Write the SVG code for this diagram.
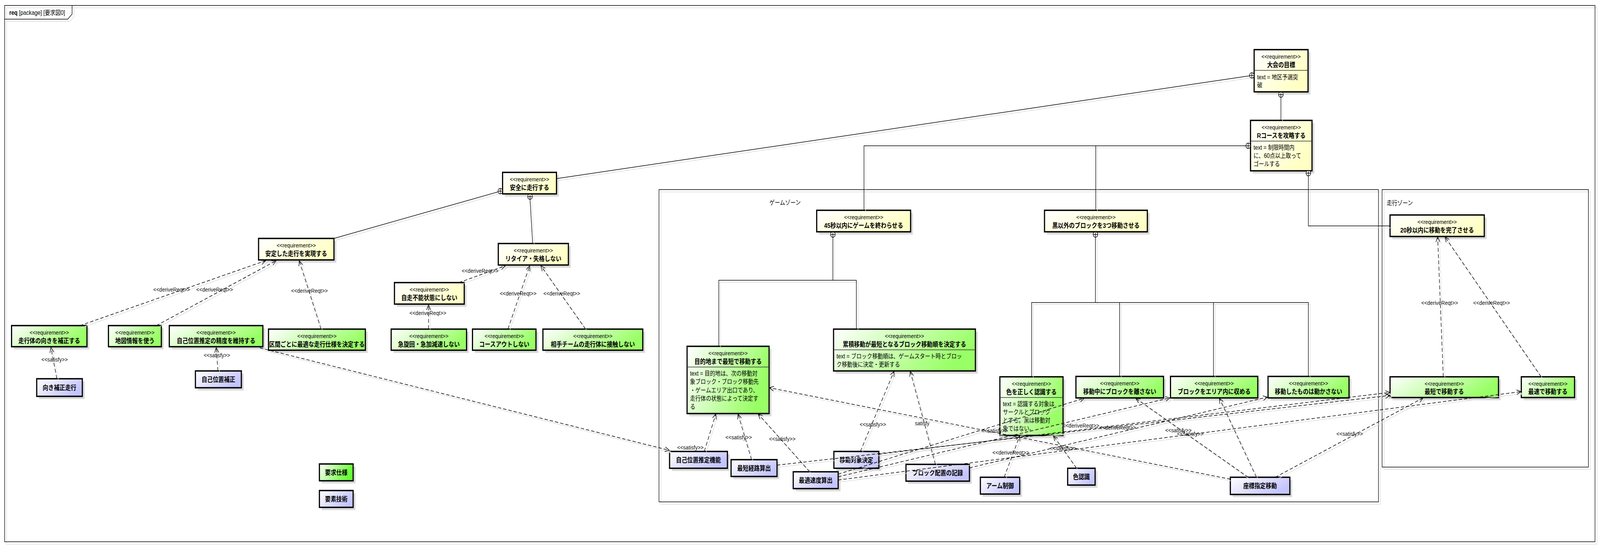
<svg xmlns="http://www.w3.org/2000/svg" xmlns:xlink="http://www.w3.org/1999/xlink" width="4839" height="1402" viewBox="0 0 4839 1402" preserveAspectRatio="none">
<style>
:root { width: 100vw; height: 100vh; }
text { font-family: "Liberation Sans", "Noto Sans CJK JP", sans-serif; fill: #000; }
.st { font-size: 15.5px; text-anchor: middle; }
.nm { font-size: 17px; font-weight: bold; text-anchor: middle; }
.tx { font-size: 16px; }
.lb { font-size: 15.5px; text-anchor: middle; fill: #111; }
.zl { font-size: 16px; }
.ttl { font-size: 16px; }
.box { stroke: #000; stroke-width: 3.5; }
.y { fill: url(#gy); }
.g { fill: url(#gg); }
.b { fill: url(#gb); }
.gl { fill: url(#ggl); }
.sh { fill: #DADADA; }
.dv { stroke: #333; stroke-width: 1.3; }
.frame { fill: none; stroke: #000; stroke-width: 1.5; }
.frs { fill: none; stroke: #DDDDDD; stroke-width: 1.5; }
.sol { fill: none; stroke: #000; stroke-width: 1.5; }
.dsh { fill: none; stroke: #000; stroke-width: 1.5; stroke-dasharray: 10 6; marker-end: url(#ar); }
.lsh { fill: none; stroke: #DCDCDC; stroke-width: 1.5; }
.dshs { marker-end: url(#ars); }
</style>
<defs>
<linearGradient id="gy" x1="0" y1="0" x2="1" y2="0.5"><stop offset="0" stop-color="#FFFFFF"/><stop offset="1" stop-color="#FFFFC4"/></linearGradient>
<linearGradient id="gg" x1="0" y1="0" x2="1" y2="0.3"><stop offset="0" stop-color="#FFFFFF"/><stop offset="1" stop-color="#99FF66"/></linearGradient>
<linearGradient id="ggl" x1="0" y1="0" x2="1" y2="0.3"><stop offset="0" stop-color="#FFFFFF"/><stop offset="1" stop-color="#66FF33"/></linearGradient>
<linearGradient id="gb" x1="0" y1="0" x2="1" y2="0.5"><stop offset="0" stop-color="#FFFFFF"/><stop offset="1" stop-color="#C4C4FF"/></linearGradient>
<marker id="ar" markerUnits="userSpaceOnUse" markerWidth="20" markerHeight="20" viewBox="-16 -10 20 20" refX="0" refY="0" orient="auto" overflow="visible"><path d="M-13,-6 L0,0 L-13,6" fill="none" stroke="#000" stroke-width="1.5" stroke-dasharray="none"/></marker>
<marker id="ars" markerUnits="userSpaceOnUse" markerWidth="20" markerHeight="20" viewBox="-16 -10 20 20" refX="0" refY="0" orient="auto" overflow="visible"><path d="M-13,-6 L0,0 L-13,6" fill="none" stroke="#DCDCDC" stroke-width="1.5" stroke-dasharray="none"/></marker>
<g id="cp"><circle r="7" fill="#FFFFFF" stroke="#000" stroke-width="1.5"/><path d="M-7,0H7M0,-7V7" stroke="#000" stroke-width="1.5"/></g>
</defs>
<rect x="0" y="0" width="4839" height="1402" fill="#FFFFFF"/>

<!-- frames -->
<g id="frame-main">
<rect class="frs" x="20" y="20" width="4810" height="1372"/>
<path class="frs" d="M20,55 H211 L224,42 V20"/>
<rect class="frame" x="14" y="14" width="4810" height="1372"/>
<path class="frame" d="M14,49 H205 L218,36 V14"/>
<text class="ttl" x="28" y="38"><tspan font-weight="bold">req</tspan> [package] [要求図0]</text>
</g>
<g id="zone-game">
<rect class="frs" x="1999" y="491" width="2176" height="799"/>
<rect class="frame" x="1993" y="485" width="2176" height="799"/>
<text class="zl" x="2327" y="524">ゲームゾーン</text>
</g>
<g id="zone-run">
<rect class="frs" x="4186" y="491" width="624" height="710"/>
<rect class="frame" x="4180" y="485" width="624" height="710"/>
<text class="zl" x="4194" y="525">走行ゾーン</text>
</g>

<!-- requirement nodes -->
<g id="n-taikai">
<rect class="sh" x="3800" y="134" width="163" height="108"/>
<rect class="box y" x="3793" y="127" width="163" height="108"/>
<line class="dv" x1="3793" y1="180" x2="3956" y2="180"/>
<text class="st" x="3874.5" y="150">&lt;&lt;requirement&gt;&gt;</text>
<text class="nm" x="3874.5" y="172">大会の目標</text>
<text class="tx" x="3802" y="203">text = 地区予選突</text>
<text class="tx" x="3802" y="223">破</text>
</g>
<g id="n-rcourse">
<rect class="sh" x="3789" y="315" width="186" height="129"/>
<rect class="box y" x="3782" y="308" width="186" height="129"/>
<line class="dv" x1="3782" y1="361" x2="3968" y2="361"/>
<text class="st" x="3875" y="331">&lt;&lt;requirement&gt;&gt;</text>
<text class="nm" x="3875" y="353">Rコースを攻略する</text>
<text class="tx" x="3791" y="383">text = 制限時間内</text>
<text class="tx" x="3791" y="404">に、60点以上取って</text>
<text class="tx" x="3791" y="425">ゴールする</text>
</g>
<g id="n-anzen">
<rect class="sh" x="1527" y="448" width="163" height="55"/>
<rect class="box y" x="1520" y="441" width="163" height="55"/>
<text class="st" x="1601.5" y="464">&lt;&lt;requirement&gt;&gt;</text>
<text class="nm" x="1601.5" y="486">安全に走行する</text>
</g>
<g id="n-antei">
<rect class="sh" x="789" y="617" width="228" height="55"/>
<rect class="box y" x="782" y="610" width="228" height="55"/>
<text class="st" x="896" y="633">&lt;&lt;requirement&gt;&gt;</text>
<text class="nm" x="896" y="655">安定した走行を実現する</text>
</g>
<g id="n-retire">
<rect class="sh" x="1514" y="630" width="212" height="55"/>
<rect class="box y" x="1507" y="623" width="212" height="55"/>
<text class="st" x="1613" y="646">&lt;&lt;requirement&gt;&gt;</text>
<text class="nm" x="1613" y="668">リタイア・失格しない</text>
</g>
<g id="n-jisou">
<rect class="sh" x="1200" y="730" width="211" height="55"/>
<rect class="box y" x="1193" y="723" width="211" height="55"/>
<text class="st" x="1298.5" y="746">&lt;&lt;requirement&gt;&gt;</text>
<text class="nm" x="1298.5" y="768">自走不能状態にしない</text>
</g>
<g id="n-muki">
<rect class="sh" x="42" y="840" width="228" height="54"/>
<rect class="box g" x="35" y="833" width="228" height="54"/>
<text class="st" x="149" y="856">&lt;&lt;requirement&gt;&gt;</text>
<text class="nm" x="149" y="878">走行体の向きを補正する</text>
</g>
<g id="n-chizu">
<rect class="sh" x="335" y="840" width="160" height="54"/>
<rect class="box g" x="328" y="833" width="160" height="54"/>
<text class="st" x="408" y="856">&lt;&lt;requirement&gt;&gt;</text>
<text class="nm" x="408" y="878">地図情報を使う</text>
</g>
<g id="n-seido">
<rect class="sh" x="519" y="840" width="283" height="54"/>
<rect class="box g" x="512" y="833" width="283" height="54"/>
<text class="st" x="653.5" y="856">&lt;&lt;requirement&gt;&gt;</text>
<text class="nm" x="653.5" y="878">自己位置推定の精度を維持する</text>
</g>
<g id="n-kukan">
<rect class="sh" x="819" y="849" width="293" height="54"/>
<rect class="box g" x="812" y="842" width="293" height="54"/>
<text class="st" x="958.5" y="865">&lt;&lt;requirement&gt;&gt;</text>
<text class="nm" x="958.5" y="887">区間ごとに最適な走行仕様を決定する</text>
</g>
<g id="n-kyusenkai">
<rect class="sh" x="1190" y="849" width="228" height="54"/>
<rect class="box g" x="1183" y="842" width="228" height="54"/>
<text class="st" x="1297" y="865">&lt;&lt;requirement&gt;&gt;</text>
<text class="nm" x="1297" y="887">急旋回・急加減速しない</text>
</g>
<g id="n-courseout">
<rect class="sh" x="1436" y="849" width="192" height="54"/>
<rect class="box g" x="1429" y="842" width="192" height="54"/>
<text class="st" x="1525" y="865">&lt;&lt;requirement&gt;&gt;</text>
<text class="nm" x="1525" y="887">コースアウトしない</text>
</g>
<g id="n-aite">
<rect class="sh" x="1649" y="849" width="302" height="54"/>
<rect class="box g" x="1642" y="842" width="302" height="54"/>
<text class="st" x="1793" y="865">&lt;&lt;requirement&gt;&gt;</text>
<text class="nm" x="1793" y="887">相手チームの走行体に接触しない</text>
</g>
<g id="n-45sec">
<rect class="sh" x="2477" y="545" width="284" height="55"/>
<rect class="box y" x="2470" y="538" width="284" height="55"/>
<text class="st" x="2612" y="561">&lt;&lt;requirement&gt;&gt;</text>
<text class="nm" x="2612" y="583">45秒以内にゲームを終わらせる</text>
</g>
<g id="n-kuro">
<rect class="sh" x="3166" y="545" width="311" height="55"/>
<rect class="box y" x="3159" y="538" width="311" height="55"/>
<text class="st" x="3314.5" y="561">&lt;&lt;requirement&gt;&gt;</text>
<text class="nm" x="3314.5" y="583">黒以外のブロックを3つ移動させる</text>
</g>
<g id="n-mokuteki">
<rect class="sh" x="2085" y="893" width="248" height="172"/>
<rect class="box g" x="2078" y="886" width="248" height="172"/>
<line class="dv" x1="2078" y1="939" x2="2326" y2="939"/>
<text class="st" x="2202" y="909">&lt;&lt;requirement&gt;&gt;</text>
<text class="nm" x="2202" y="931">目的地まで最短で移動する</text>
<text class="tx" x="2087" y="961">text = 目的地は、次の移動対</text>
<text class="tx" x="2087" y="982">象ブロック・ブロック移動先</text>
<text class="tx" x="2087" y="1004">・ゲームエリア出口であり、</text>
<text class="tx" x="2087" y="1025">走行体の状態によって決定す</text>
<text class="tx" x="2087" y="1046">る</text>
</g>
<g id="n-ruiseki">
<rect class="sh" x="2528" y="849" width="429" height="107"/>
<rect class="box g" x="2521" y="842" width="429" height="107"/>
<line class="dv" x1="2521" y1="895" x2="2950" y2="895"/>
<text class="st" x="2735.5" y="865">&lt;&lt;requirement&gt;&gt;</text>
<text class="nm" x="2735.5" y="887">累積移動が最短となるブロック移動順を決定する</text>
<text class="tx" x="2530" y="917">text = ブロック移動順は、ゲームスタート時とブロッ</text>
<text class="tx" x="2530" y="938">ク移動後に決定・更新する</text>
</g>
<g id="n-iro">
<rect class="sh" x="3031" y="971" width="191" height="150"/>
<rect class="box g" x="3024" y="964" width="191" height="150"/>
<line class="dv" x1="3024" y1="1017" x2="3215" y2="1017"/>
<text class="st" x="3119.5" y="987">&lt;&lt;requirement&gt;&gt;</text>
<text class="nm" x="3119.5" y="1009">色を正しく認識する</text>
<text class="tx" x="3033" y="1039">text = 認識する対象は</text>
<text class="tx" x="3033" y="1060">サークルとブロック</text>
<text class="tx" x="3033" y="1081">とする。黒は移動対</text>
<text class="tx" x="3033" y="1102">象ではない。</text>
</g>
<g id="n-hanasanai">
<rect class="sh" x="3261" y="970" width="265" height="55"/>
<rect class="box g" x="3254" y="963" width="265" height="55"/>
<text class="st" x="3386.5" y="986">&lt;&lt;requirement&gt;&gt;</text>
<text class="nm" x="3386.5" y="1008">移動中にブロックを離さない</text>
</g>
<g id="n-area">
<rect class="sh" x="3547" y="970" width="264" height="55"/>
<rect class="box g" x="3540" y="963" width="264" height="55"/>
<text class="st" x="3672" y="986">&lt;&lt;requirement&gt;&gt;</text>
<text class="nm" x="3672" y="1008">ブロックをエリア内に収める</text>
</g>
<g id="n-ugokasanai">
<rect class="sh" x="3842" y="970" width="245" height="55"/>
<rect class="box g" x="3835" y="963" width="245" height="55"/>
<text class="st" x="3957.5" y="986">&lt;&lt;requirement&gt;&gt;</text>
<text class="nm" x="3957.5" y="1008">移動したものは動かさない</text>
</g>
<g id="n-20sec">
<rect class="sh" x="4211" y="557" width="285" height="55"/>
<rect class="box y" x="4204" y="550" width="285" height="55"/>
<text class="st" x="4346.5" y="573">&lt;&lt;requirement&gt;&gt;</text>
<text class="nm" x="4346.5" y="595">20秒以内に移動を完了させる</text>
</g>
<g id="n-saitan">
<rect class="sh" x="4211" y="971" width="328" height="53"/>
<rect class="box g" x="4204" y="964" width="328" height="53"/>
<text class="st" x="4368" y="987">&lt;&lt;requirement&gt;&gt;</text>
<text class="nm" x="4368" y="1008">最短で移動する</text>
</g>
<g id="n-saisoku">
<rect class="sh" x="4608" y="971" width="161" height="53"/>
<rect class="box g" x="4601" y="964" width="161" height="53"/>
<text class="st" x="4681.5" y="987">&lt;&lt;requirement&gt;&gt;</text>
<text class="nm" x="4681.5" y="1008">最速で移動する</text>
</g>

<!-- technique nodes -->
<g id="t-mukihosei">
<rect class="sh" x="118" y="976" width="138" height="45"/>
<rect class="box b" x="111" y="969" width="138" height="45"/>
<text class="nm" x="180" y="998">向き補正走行</text>
</g>
<g id="t-jikohosei">
<rect class="sh" x="598" y="956" width="139" height="43"/>
<rect class="box b" x="591" y="949" width="139" height="43"/>
<text class="nm" x="660.5" y="977">自己位置補正</text>
</g>
<g id="t-jikosuitei">
<rect class="sh" x="2032" y="1162" width="175" height="43"/>
<rect class="box b" x="2025" y="1155" width="175" height="43"/>
<text class="nm" x="2112.5" y="1183">自己位置推定機能</text>
</g>
<g id="t-keiro">
<rect class="sh" x="2218" y="1183" width="139" height="43"/>
<rect class="box b" x="2211" y="1176" width="139" height="43"/>
<text class="nm" x="2280.5" y="1204">最短経路算出</text>
</g>
<g id="t-sokudo">
<rect class="sh" x="2406" y="1214" width="136" height="43"/>
<rect class="box b" x="2399" y="1207" width="136" height="43"/>
<text class="nm" x="2467" y="1235">最適速度算出</text>
</g>
<g id="t-taisho">
<rect class="sh" x="2529" y="1162" width="136" height="43"/>
<rect class="box b" x="2522" y="1155" width="136" height="43"/>
<text class="nm" x="2590" y="1183">移動対象決定</text>
</g>
<g id="t-haichi">
<rect class="sh" x="2747" y="1195" width="192" height="43"/>
<rect class="box b" x="2740" y="1188" width="192" height="43"/>
<text class="nm" x="2836" y="1216">ブロック配置の記録</text>
</g>
<g id="t-arm">
<rect class="sh" x="2972" y="1228" width="119" height="43"/>
<rect class="box b" x="2965" y="1221" width="119" height="43"/>
<text class="nm" x="3024.5" y="1249">アーム制御</text>
</g>
<g id="t-iro">
<rect class="sh" x="3236" y="1205" width="83" height="43"/>
<rect class="box b" x="3229" y="1198" width="83" height="43"/>
<text class="nm" x="3270.5" y="1226">色認識</text>
</g>
<g id="t-zahyo">
<rect class="sh" x="3728" y="1228" width="180" height="44"/>
<rect class="box b" x="3721" y="1221" width="180" height="44"/>
<text class="nm" x="3811" y="1249">座標指定移動</text>
</g>

<!-- legend -->
<g id="legend-youkyu">
<rect class="sh" x="973" y="1194" width="102" height="43"/>
<rect class="box gl" x="966" y="1187" width="102" height="43"/>
<text class="nm" x="1017" y="1215">要求仕様</text>
</g>
<g id="legend-youso">
<rect class="sh" x="973" y="1262" width="102" height="43"/>
<rect class="box b" x="966" y="1255" width="102" height="43"/>
<text class="nm" x="1017" y="1283">要素技術</text>
</g>

<!-- connectors -->
<g id="connectors">
<use href="#solid-lines" class="lsh" transform="translate(5,5)"/>
<use href="#dash-lines" class="lsh dshs" transform="translate(5,5)"/>
<g class="sol">
<g id="solid-lines">
<path d="M1683,457 L3779,194"/>
<path d="M1506,491 L1010,610"/>
<path d="M1603,510 L1611,623"/>
<path d="M3874,249 V308"/>
<path d="M3768,373 H2613 V538 M3314,373 V538"/>
<path d="M3957,450 V578 H4204"/>
<path d="M2519,607 V717 M2174,886 V717 H2590 V842"/>
<path d="M3313,607 V774 M3120,964 V774 H3957 V963 M3386,774 V963 M3670,774 V963"/>
</g>
</g>
<g class="dsh">
<g id="dash-lines">
<path d="M242,833 L803,667"/>
<path d="M473,833 L835,667"/>
<path d="M971,842 L905,667"/>
<path d="M172,969 L154,889"/>
<path d="M659,949 L654,889"/>
<path d="M1388,723 L1528,680"/>
<path d="M1296,842 L1296,780"/>
<path d="M1536,842 L1602,680"/>
<path d="M1771,842 L1636,680"/>
<path d="M786,890 L2024,1152"/>
<path d="M2130,1155 L2165,1059"/>
<path d="M2273,1176 L2232,1059"/>
<path d="M2449,1207 L2293,1059"/>
<path d="M2602,1155 L2704,950"/>
<path d="M2829,1188 L2753,950"/>
<path d="M3721,1226 L2327,992"/>
<path d="M3037,1221 L3084,1115"/>
<path d="M3256,1198 L3186,1115"/>
<path d="M3775,1221 L3435,1019"/>
<path d="M3800,1221 L3688,1019"/>
<path d="M3857,1221 L4304,1018"/>
<path d="M2535,1213 L3279,1019"/>
<path d="M2535,1220 L3538,1018"/>
<path d="M2932,1197 L3833,1016"/>
<path d="M2350,1190 L4203,1012"/>
<path d="M2658,1162 L4203,1004"/>
<path d="M2535,1228 L4600,1002"/>
<path d="M4365,964 L4348,606"/>
<path d="M4661,964 L4370,606"/>
</g>
</g>
<use href="#cp" x="3786" y="193"/>
<use href="#cp" x="1513" y="489"/>
<use href="#cp" x="1603" y="503"/>
<use href="#cp" x="3874" y="242"/>
<use href="#cp" x="3775" y="373"/>
<use href="#cp" x="3957" y="443"/>
<use href="#cp" x="2519" y="600"/>
<use href="#cp" x="3313" y="600"/>
<g id="connector-labels">
<text class="lb" x="519" y="746">&lt;&lt;deriveReqt&gt;&gt;</text>
<text class="lb" x="649" y="746">&lt;&lt;deriveReqt&gt;&gt;</text>
<text class="lb" x="936" y="749">&lt;&lt;deriveReqt&gt;&gt;</text>
<text class="lb" x="1452" y="698">&lt;&lt;deriveReqt&gt;&gt;</text>
<text class="lb" x="1294" y="806">&lt;&lt;deriveReqt&gt;&gt;</text>
<text class="lb" x="1567" y="756">&lt;&lt;deriveReqt&gt;&gt;</text>
<text class="lb" x="1699" y="756">&lt;&lt;deriveReqt&gt;&gt;</text>
<text class="lb" x="3269" y="1094">&lt;&lt;deriveReqt&gt;&gt;</text>
<text class="lb" x="3380" y="1099">&lt;&lt;deriveReqt&gt;&gt;</text>
<text class="lb" x="3057" y="1163">&lt;&lt;deriveReqt&gt;&gt;</text>
<text class="lb" x="4354" y="780">&lt;&lt;deriveReqt&gt;&gt;</text>
<text class="lb" x="4511" y="780">&lt;&lt;deriveReqt&gt;&gt;</text>
<text class="lb" x="165" y="925">&lt;&lt;satisfy&gt;&gt;</text>
<text class="lb" x="656" y="914">&lt;&lt;satisfy&gt;&gt;</text>
<text class="lb" x="2088" y="1150">&lt;&lt;satisfy&gt;&gt;</text>
<text class="lb" x="2234" y="1124">&lt;&lt;satisfy&gt;&gt;</text>
<text class="lb" x="2366" y="1128">&lt;&lt;satisfy&gt;&gt;</text>
<text class="lb" x="2640" y="1091">&lt;&lt;satisfy&gt;&gt;</text>
<text class="lb" x="2789" y="1088">satisfy</text>
<text class="lb" x="3008" y="1107">&lt;&lt;satisfy&gt;&gt;</text>
<text class="lb" x="3215" y="1152">&lt;&lt;satisfy&gt;&gt;</text>
<text class="lb" x="3564" y="1106">&lt;&lt;satisfy&gt;&gt;</text>
<text class="lb" x="3600" y="1115">&lt;&lt;satisfy&gt;&gt;</text>
<text class="lb" x="4082" y="1115">&lt;&lt;satisfy&gt;&gt;</text>
</g>
</g>
</svg>
